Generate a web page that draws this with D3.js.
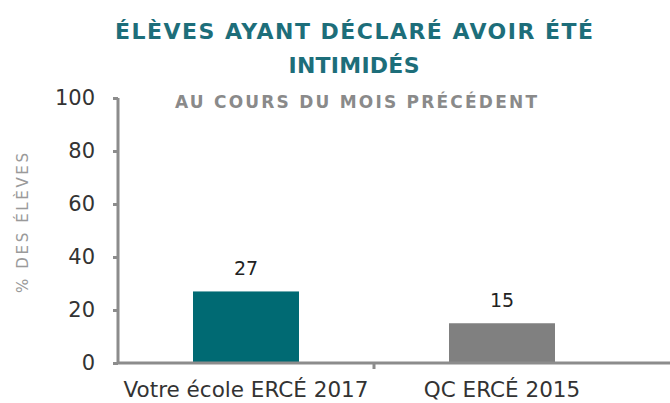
<!DOCTYPE html>
<html lang="fr">
<head>
<meta charset="utf-8">
<title>Élèves intimidés</title>
<script src="https://cdn.jsdelivr.net/npm/d3@7"></script>
<style>
  body { margin: 0; background: #fff; }
  svg { font-family: "DejaVu Sans", sans-serif; }
  .axis path, .axis line { stroke: #8c8c8c; stroke-width: 3; }
  .axis text { font-size: 21px; fill: #333; font-family: "DejaVu Sans", sans-serif; }
</style>
</head>
<body>
<script>
var categories = ["Votre école ERCÉ 2017", "QC ERCÉ 2015"];
var values = [27, 15];
var barColors = ["#006a73", "#808080"];
var yTicks = [0, 20, 40, 60, 80, 100];

var w = 670, h = 403;

var svg = d3.select("body").append("svg")
  .attr("width", w)
  .attr("height", h);

var xScale = d3.scaleBand()
  .domain(categories)
  .range([118, 630])
  .paddingInner(0.586)
  .paddingOuter(0.293);

var yScale = d3.scaleLinear()
  .domain([0, 100])
  .range([363, 98]);

// bars
svg.selectAll("rect.bar")
  .data(values)
  .enter().append("rect")
  .attr("class", "bar")
  .attr("x", function (d, i) { return xScale(categories[i]); })
  .attr("y", function (d) { return yScale(d); })
  .attr("width", xScale.bandwidth())
  .attr("height", function (d) { return yScale(0) - yScale(d); })
  .attr("fill", function (d, i) { return barColors[i]; });

// value labels
svg.selectAll("text.val")
  .data(values)
  .enter().append("text")
  .attr("class", "val")
  .attr("x", function (d, i) { return xScale(categories[i]) + xScale.bandwidth() / 2; })
  .attr("y", function (d) { return yScale(d) - 16; })
  .attr("text-anchor", "middle")
  .attr("font-size", 19)
  .attr("fill", "#222")
  .text(function (d) { return d; });

// y axis
svg.append("g")
  .attr("class", "axis")
  .attr("transform", "translate(118,0)")
  .call(d3.axisLeft(yScale).tickValues(yTicks).tickSize(5).tickPadding(18))
  .call(function (g) { g.select(".domain").attr("d", "M0," + yScale(100) + "V" + yScale(0)); });

// x axis
var xAxis = svg.append("g")
  .attr("class", "axis")
  .attr("transform", "translate(0,363)");
xAxis.append("line")
  .attr("x1", 118).attr("x2", w);
xAxis.selectAll("line.sep")
  .data([xScale(categories[1]) - xScale.step() * xScale.paddingInner() / 2])
  .enter().append("line")
  .attr("class", "sep")
  .attr("x1", function (d) { return d; })
  .attr("x2", function (d) { return d; })
  .attr("y1", 0).attr("y2", 6);
xAxis.selectAll("text.cat")
  .data(categories)
  .enter().append("text")
  .attr("class", "cat")
  .attr("x", function (d) { return xScale(d) + xScale.bandwidth() / 2; })
  .attr("y", 34)
  .attr("text-anchor", "middle")
  .attr("fill", "#222")
  .style("font-size", "21.5px")
  .text(function (d) { return d; });

// y axis title
svg.append("text")
  .attr("transform", "translate(28,223) rotate(-90)")
  .attr("text-anchor", "middle")
  .attr("font-size", 15)
  .attr("fill", "#9a9a9a")
  .attr("textLength", 140)
  .attr("lengthAdjust", "spacing")
  .text("% DES ÉLÈVES");

// titles
var titleLines = ["ÉLÈVES AYANT DÉCLARÉ AVOIR ÉTÉ", "INTIMIDÉS"];
var titleWidths = [478, 131];
svg.selectAll("text.title")
  .data(titleLines)
  .enter().append("text")
  .attr("class", "title")
  .attr("x", 354)
  .attr("y", function (d, i) { return 39 + i * 34; })
  .attr("text-anchor", "middle")
  .attr("font-size", 22).attr("font-weight", "bold")
  .attr("fill", "#1d6e7a")
  .attr("textLength", function (d, i) { return titleWidths[i]; })
  .attr("lengthAdjust", "spacing")
  .text(function (d) { return d; });
svg.append("text")
  .attr("x", 356).attr("y", 108)
  .attr("text-anchor", "middle")
  .attr("font-size", 17).attr("font-weight", "bold")
  .attr("fill", "#8a8a8a")
  .attr("textLength", 362)
  .attr("lengthAdjust", "spacing")
  .text("AU COURS DU MOIS PRÉCÉDENT");
</script>
</body>
</html>
